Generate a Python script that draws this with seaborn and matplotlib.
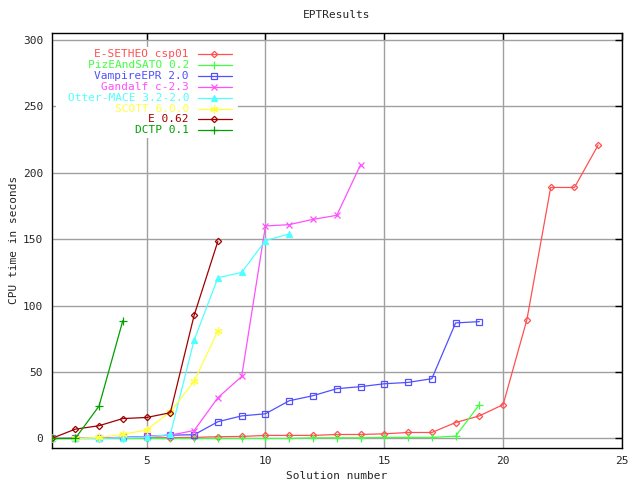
import numpy as np
import pandas as pd
import matplotlib
matplotlib.use("Agg")
import matplotlib.pyplot as plt
from matplotlib.patches import Rectangle
import seaborn as sns

# ------------------------------------------
# data (CPU time per solution number)
# ------------------------------------------
esetheo = [0, 0.1, 0.2, 0.3, 0.5, 0.6, 0.8, 1.3, 1.5, 2.3, 2.3, 2.3, 3, 3, 3.5, 4.5, 4.5,
           12, 17, 25.5, 89.5, 189, 189, 221]
pizeandsato = [0, 0, 0, 0, 0, 0, 0, 0, 0, 0, 0, 0.5, 0.5, 0.5, 0.8, 0.8, 0.8, 1.7, 25.5]
vampire = [0, 0.2, 0.4, 0.8, 1.5, 2.5, 2.8, 12.6, 17, 18.6, 28.4, 32.2, 37.5, 39, 41.2,
           42.2, 45, 87, 88]
gandalf = [0, 0, 0.3, 0.8, 1.5, 2.5, 6, 30.7, 46.7, 160, 161, 165, 168, 206]
otter = [0, 0, 0, 0.5, 1, 3, 74, 121, 125, 149, 154]
scott = [0, 0, 0.8, 3, 6.5, 20, 43, 81]
e062 = [0, 7, 9.6, 15, 15.8, 19.4, 92.7, 148.5]
dctp = [0, 0, 24.4, 88.7]

labels = ["E-SETHEO csp01", "PizEAndSATO 0.2", "VampireEPR 2.0", "Gandalf c-2.3",
          "Otter-MACE 3.2-2.0", "SCOTT 6.0.0", "E 0.62", "DCTP 0.1"]
series = [esetheo, pizeandsato, vampire, gandalf, otter, scott, e062, dctp]

colors = ["#ff5050", "#40ff40", "#5050ff", "#ff50ff", "#50ffff", "#ffff40", "#a00000", "#00a000"]
markers = ["D", "+", "s", "x", "^", (6, 2, 0), "D", "+"]
msizes = [3.2, 6, 4.5, 5, 4, 6, 3.2, 6]
filled = [False, True, False, True, True, True, False, True]

# ------------------------------------------
# plot
# ------------------------------------------
sns.set_style("white")
plt.rcParams["font.family"] = ["DejaVu Sans Mono", "DejaVu Sans"]
plt.rcParams["font.size"] = 8

fig = plt.figure(figsize=(6.4, 4.8), dpi=100)
ax = fig.add_axes([51.5 / 640, 1 - 447.5 / 480, (622 - 51.5) / 640, (447.5 - 33) / 480])

for lab, vals, c, m, ms, f in zip(labels, series, colors, markers, msizes, filled):
    df = pd.DataFrame({"x": np.arange(1, len(vals) + 1), "y": vals})
    sns.lineplot(data=df, x="x", y="y", ax=ax, color=c, linewidth=0.9, marker=m,
                 markersize=ms, markeredgecolor=c,
                 markerfacecolor=(c if f else "none"), markeredgewidth=0.9,
                 zorder=3)

ax.set_xlim(1, 25)
ax.set_ylim(-6.8, 305.3)
ax.set_xticks([5, 10, 15, 20, 25])
ax.set_yticks(range(0, 301, 50))
ax.grid(True, color="#a0a0a0", linewidth=1)
ax.tick_params(direction="in", length=5, width=1, top=True, right=True,
               labelsize=8, pad=6, color="black")
for s in ax.spines.values():
    s.set_color("black")
    s.set_linewidth(1)

ax.set_xlabel("Solution number", fontsize=8, labelpad=4)
ax.set_ylabel("CPU time in seconds", fontsize=8, labelpad=3)
ax.set_title("EPTResults", fontsize=8, pad=11)

# key box, gnuplot style (text right aligned, sample on the right)
ax.add_patch(Rectangle((56, 480 - 138), 182, 91, transform=None, facecolor="white",
                       edgecolor="none", zorder=2.5))
for i, (lab, c, m, ms, f) in enumerate(zip(labels, colors, markers, msizes, filled)):
    ypix = 480 - (54 + i * 10.9)
    fig.text(189 / 640, ypix / 480, lab, color=c, ha="right", va="center", fontsize=8)
    fig.add_artist(plt.Line2D([198 / 640, 232 / 640], [ypix / 480] * 2, color=c, linewidth=0.9))
    fig.add_artist(plt.Line2D([214 / 640], [ypix / 480], color=c, marker=m, markersize=ms,
                              markeredgecolor=c, markeredgewidth=0.9,
                              markerfacecolor=(c if f else "none")))

fig.savefig("out.png", dpi=100)
